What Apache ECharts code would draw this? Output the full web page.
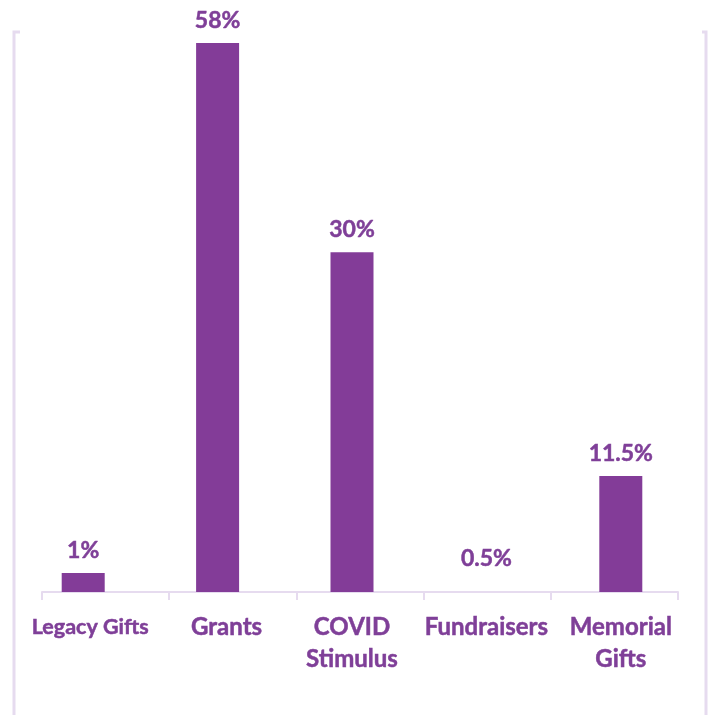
<!DOCTYPE html>
<html>
<head>
<meta charset="utf-8">
<script src="https://cdn.jsdelivr.net/npm/echarts@6/dist/echarts.min.js"></script>
<style>
  html, body { margin: 0; padding: 0; background: #fff; }
  #chart { width: 711px; height: 715px; }
</style>
</head>
<body>
<div id="chart"></div>
<script>
// categories (newline where the label wraps)
const categories = ['Legacy Gifts', 'Grants', 'COVID\nStimulus', 'Fundraisers', 'Memorial\nGifts'];
// bar heights as drawn in the picture (58% bar = full height)
const barHeights = [2.0, 58, 35.9, 0, 12.25];
// labels printed above the bars
const shareLabels = ['1%', '58%', '30%', '0.5%', '11.5%'];

const purple = '#833c98';
const textPurple = '#7f3f98';
const lightLine = '#e6dbef';
const font = 'Lato';

const dom = document.getElementById('chart');
const myChart = echarts.init(dom, null, { renderer: 'canvas' });

const seriesData = barHeights.map((v, i) => {
  const item = { value: v };
  if (v === 0) {
    // no bar drawn, label still sits a bit above the axis
    item.label = { distance: 22 };
  }
  return item;
});

const labelText = {
  color: textPurple,
  fontFamily: font,
  fontWeight: 'bold',
  lineHeight: 32,
  textBorderColor: textPurple,
  textBorderWidth: 0.5
};

const option = {
  animation: false,
  grid: [
    { left: 16, right: 23, top: 43, bottom: 123 },
    { left: 42, right: 33, top: 43, bottom: 123 }
  ],
  xAxis: [
    {
      type: 'category',
      gridIndex: 0,
      data: categories,
      axisLine: { show: false },
      axisTick: { show: false },
      axisLabel: Object.assign({}, labelText, {
        fontSize: 24,
        margin: 19,
        interval: 0,
        // the first label is smaller in the original, the first two sit a bit right
        formatter: (v, i) => (i === 0 ? '{s|' + v + '}' : i === 1 ? '{g|' + v + '}' : v),
        rich: {
          s: Object.assign({}, labelText, { fontSize: 21.5, padding: [0, 0, 0, 14] }),
          g: Object.assign({}, labelText, { fontSize: 24, padding: [0, 0, 0, 18] })
        }
      })
    },
    {
      type: 'category',
      gridIndex: 1,
      data: categories,
      axisLine: { show: true, lineStyle: { color: lightLine, width: 2 } },
      axisTick: { show: true, length: 8, lineStyle: { color: lightLine, width: 2 } },
      axisLabel: { show: false }
    }
  ],
  yAxis: [
    { type: 'value', gridIndex: 0, min: 0, max: 58, show: false },
    { type: 'value', gridIndex: 1, min: 0, max: 58, show: false }
  ],
  series: [
    {
      type: 'bar',
      xAxisIndex: 0,
      yAxisIndex: 0,
      data: seriesData,
      barWidth: 43,
      itemStyle: { color: purple },
      label: {
        show: true,
        position: 'top',
        distance: 11,
        color: textPurple,
        fontFamily: font,
        fontWeight: 'bold',
        fontSize: 23,
        textBorderColor: textPurple,
        textBorderWidth: 0.5,
        formatter: p => shareLabels[p.dataIndex]
      }
    },
    {
      type: 'bar',
      xAxisIndex: 1,
      yAxisIndex: 1,
      data: [],
      silent: true
    }
  ],
  graphic: [
    // frame lines at the left and right edges
    { type: 'polyline', shape: { points: [[20, 32], [14, 32], [14, 715]] }, style: { stroke: lightLine, lineWidth: 3, fill: null } },
    { type: 'polyline', shape: { points: [[702, 32], [706, 32], [706, 715]] }, style: { stroke: lightLine, lineWidth: 3, fill: null } }
  ]
};

if (option && typeof option === 'object') {
  myChart.setOption(option);
}

window.addEventListener('resize', function () {
  myChart.resize();
});
</script>
</body>
</html>
